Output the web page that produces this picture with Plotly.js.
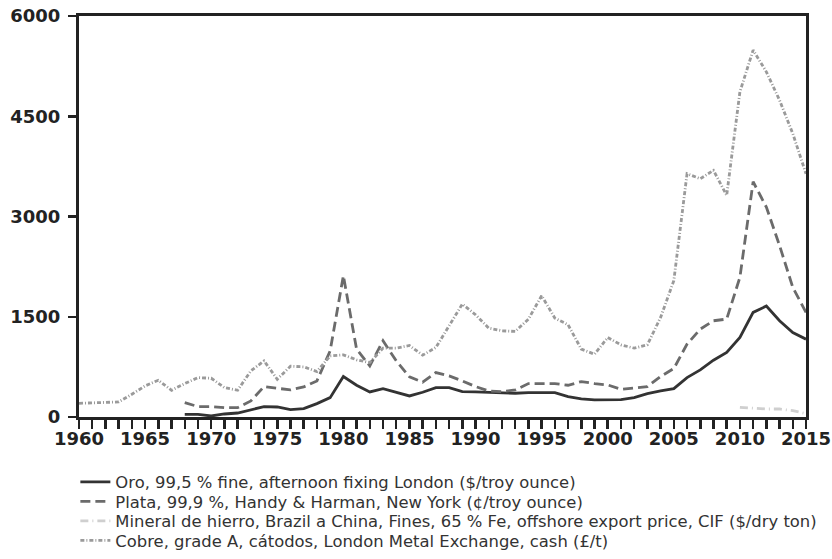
<!DOCTYPE html>
<html>
<head>
<meta charset="utf-8">
<script src="https://cdn.plot.ly/plotly-3.0.1.min.js"></script>
<style>
html,body{margin:0;padding:0;background:#fff;}
#chart{width:832px;height:559px;}
</style>
</head>
<body>
<div id="chart"></div>
<script>
// Years
const yearsCopper = [1960,1961,1962,1963,1964,1965,1966,1967,1968,1969,1970,1971,1972,1973,1974,1975,1976,1977,1978,1979,1980,1981,1982,1983,1984,1985,1986,1987,1988,1989,1990,1991,1992,1993,1994,1995,1996,1997,1998,1999,2000,2001,2002,2003,2004,2005,2006,2007,2008,2009,2010,2011,2012,2013,2014,2015];
const yearsGoldSilver = [1968,1969,1970,1971,1972,1973,1974,1975,1976,1977,1978,1979,1980,1981,1982,1983,1984,1985,1986,1987,1988,1989,1990,1991,1992,1993,1994,1995,1996,1997,1998,1999,2000,2001,2002,2003,2004,2005,2006,2007,2008,2009,2010,2011,2012,2013,2014,2015];
const yearsIron = [2010,2011,2012,2013,2014,2015];

// Series values
const oro = [40,40,15,45,60,110,155,150,110,125,200,290,605,475,375,425,375,315,370,440,440,380,375,365,360,355,365,365,365,305,270,255,255,260,290,350,390,425,590,705,850,965,1190,1565,1660,1440,1265,1165];
const plata = [215,155,155,140,140,240,455,425,405,450,540,990,2115,1015,765,1140,840,600,520,665,615,540,455,390,380,405,500,500,500,475,530,500,480,415,430,455,605,725,1090,1315,1440,1465,2090,3520,3140,2565,1940,1565];
const hierro = [145,130,120,120,95,50];
const cobre = [205,210,225,225,340,465,550,400,500,590,580,440,400,690,840,565,760,750,680,915,930,855,815,1030,1030,1070,925,1040,1365,1690,1530,1330,1290,1280,1465,1815,1480,1380,1015,940,1190,1080,1030,1080,1490,2040,3640,3565,3690,3315,4865,5490,5165,4740,4240,3640];

// Labels
const names = [
  "Oro, 99,5 % fine, afternoon fixing London ($/troy ounce)",
  "Plata, 99,9 %, Handy & Harman, New York (¢/troy ounce)",
  "Mineral de hierro, Brazil a China, Fines, 65 % Fe, offshore export price, CIF ($/dry ton)",
  "Cobre, grade A, cátodos, London Metal Exchange, cash (£/t)"
];
const yTicks = [0,1500,3000,4500,6000];
const xTicks = [1960,1965,1970,1975,1980,1985,1990,1995,2000,2005,2010,2015];

const traces = [
  {x: yearsGoldSilver, y: oro, name: names[0], type: 'scatter', mode: 'lines', legend: 'legend',
   line: {color: '#333333', width: 2.8}},
  {x: yearsGoldSilver, y: plata, name: names[1], type: 'scatter', mode: 'lines', legend: 'legend2',
   line: {color: '#6b6b6b', width: 2.8, dash: '10px,5px'}},
  {x: yearsIron, y: hierro, name: names[2], type: 'scatter', mode: 'lines', legend: 'legend3',
   line: {color: '#cfcfcf', width: 2.8, dash: '8px,4px,1px,4px'}},
  {x: yearsCopper, y: cobre, name: names[3], type: 'scatter', mode: 'lines', legend: 'legend4',
   line: {color: '#9a9a9a', width: 2.8, dash: '4px,2px,1px,2px'}}
];

const tickFont = {family: 'DejaVu Sans', size: 18, color: '#222222', weight: 'bold'};
const legFont = {family: 'DejaVu Sans', size: 16.4, color: '#333333'};
function leg(y) {
  return {x: -0.005, xanchor: 'left', y: y, yanchor: 'middle', font: legFont,
          bgcolor: 'rgba(0,0,0,0)', borderwidth: 0};
}

const layout = {
  width: 832, height: 559,
  margin: {l: 79, r: 26, t: 16, b: 142, autoexpand: false},
  paper_bgcolor: '#ffffff', plot_bgcolor: '#ffffff',
  showlegend: true,
  legend: leg(-0.1628),
  legend2: leg(-0.2115),
  legend3: leg(-0.2601),
  legend4: leg(-0.3087),
  xaxis: {range: [1960, 2015], tickvals: xTicks, ticktext: xTicks.map(String),
          showgrid: false, zeroline: false,
          showline: true, linecolor: '#222222', linewidth: 3, mirror: true,
          ticks: 'outside', ticklen: 9, tickwidth: 2.5, tickcolor: '#222222',
          minor: {dtick: 1, tick0: 1960, ticks: 'outside', ticklen: 9, tickwidth: 2.5, tickcolor: '#222222', showgrid: false},
          tickfont: tickFont, ticklabelstandoff: -6, fixedrange: true},
  yaxis: {range: [0, 6000], tickvals: yTicks, ticktext: yTicks.map(String),
          showgrid: false, zeroline: false,
          showline: true, linecolor: '#222222', linewidth: 3, mirror: true,
          ticks: 'outside', ticklen: 8, tickwidth: 2.5, tickcolor: '#222222',
          tickfont: tickFont, ticklabelstandoff: 4, fixedrange: true}
};

Plotly.newPlot('chart', traces, layout, {displayModeBar: false, staticPlot: true});
</script>
</body>
</html>
